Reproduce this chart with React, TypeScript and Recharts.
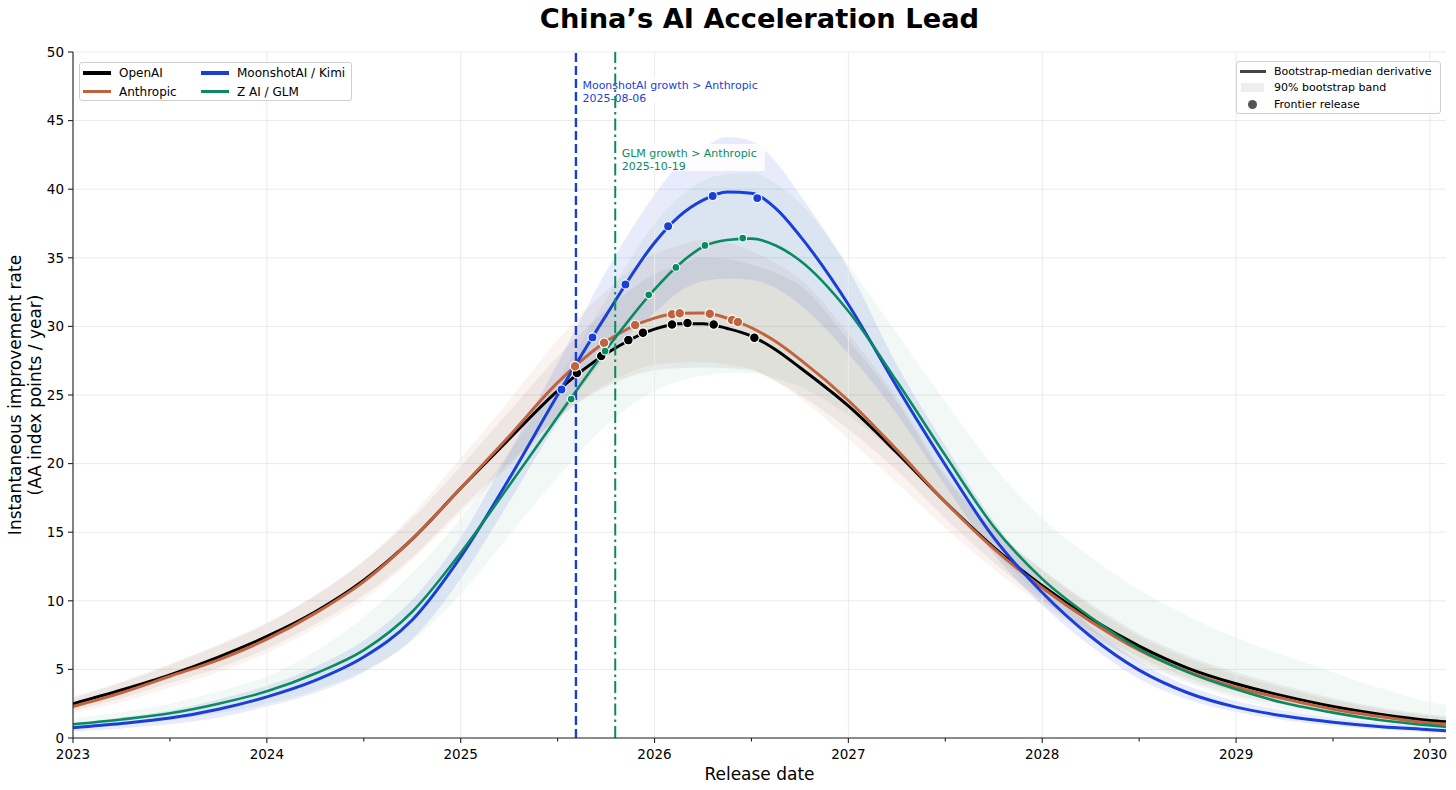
import React from 'react';
import {
  ComposedChart,
  Line,
  Area,
  Scatter,
  XAxis,
  YAxis,
  CartesianGrid,
  ReferenceLine,
} from 'recharts';

const FONT = '"DejaVu Sans", Verdana, sans-serif';

// ---------- data ----------
const T = [
  2023, 2023.25, 2023.5, 2023.75, 2024, 2024.25, 2024.5, 2024.75, 2025, 2025.25,
  2025.5, 2025.75, 2026, 2026.125, 2026.25, 2026.375, 2026.5, 2026.625, 2026.75, 2027,
  2027.25, 2027.5, 2027.75, 2028, 2028.25, 2028.5, 2028.75, 2029, 2029.25, 2029.5,
  2029.75, 2030, 2030.083,
];

const OPENAI = [2.5, 3.5, 4.6, 5.9, 7.4, 9.2, 11.5, 14.5, 18.2, 21.8, 25.3, 28.0, 29.8, 30.2, 30.2, 29.85, 29.3, 28.3, 27.0, 24.2, 20.8, 17.2, 13.9, 11.1, 8.7, 6.7, 5.1, 3.95, 3.05, 2.3, 1.72, 1.28, 1.18];
const OPENAI_LO = [2.0, 2.9, 4.0, 5.1, 6.5, 8.3, 10.4, 13.2, 16.7, 20.0, 23.3, 25.6, 26.8, 26.95, 27.0, 26.95, 26.8, 26.0, 25.0, 22.5, 19.5, 16.0, 12.8, 10.0, 7.8, 5.9, 4.4, 3.4, 2.6, 1.95, 1.45, 1.05, 0.95];
const OPENAI_HI = [3.0, 4.1, 5.4, 6.8, 8.4, 10.4, 12.9, 16.0, 19.8, 23.8, 27.8, 31.2, 33.8, 34.5, 35.0, 34.9, 34.5, 33.9, 33.0, 29.0, 24.5, 19.0, 15.2, 12.3, 9.8, 7.6, 6.0, 4.8, 3.8, 2.9, 2.2, 1.7, 1.58];

const ANTHROPIC = [2.3, 3.3, 4.5, 5.7, 7.2, 9.1, 11.4, 14.5, 18.2, 22.0, 25.9, 28.9, 30.6, 30.95, 30.97, 30.6, 29.9, 28.9, 27.6, 24.6, 21.0, 17.2, 13.8, 10.95, 8.5, 6.4, 4.85, 3.7, 2.85, 2.1, 1.55, 1.1, 1.02];
const ANTHROPIC_LO = [1.8, 2.6, 3.7, 4.8, 6.2, 8.0, 10.1, 13.0, 16.4, 19.8, 23.3, 25.8, 27.2, 27.35, 27.4, 27.2, 26.9, 26.0, 24.8, 21.8, 18.6, 15.3, 12.3, 9.7, 7.5, 5.6, 4.2, 3.1, 2.4, 1.75, 1.3, 0.9, 0.82];
const ANTHROPIC_HI = [2.9, 4.0, 5.3, 6.7, 8.3, 10.4, 12.9, 16.3, 20.4, 24.6, 29.0, 32.6, 35.3, 35.9, 36.3, 36.1, 35.5, 34.6, 33.5, 29.5, 24.8, 19.2, 15.3, 12.2, 9.6, 7.4, 5.8, 4.6, 3.6, 2.75, 2.1, 1.6, 1.5];

const MOONSHOT = [0.75, 1.05, 1.45, 2.1, 3.0, 4.2, 5.9, 8.6, 13.2, 18.9, 25.0, 30.8, 36.1, 38.0, 39.2, 39.8, 39.7, 38.6, 36.6, 31.6, 25.6, 19.9, 14.6, 10.6, 7.4, 4.95, 3.3, 2.25, 1.6, 1.15, 0.82, 0.6, 0.52];
const MOONSHOT_LO = [0.5, 0.7, 1.0, 1.5, 2.3, 3.3, 4.8, 7.2, 11.6, 17.2, 23.0, 27.8, 31.0, 32.5, 33.3, 33.5, 33.4, 32.8, 31.6, 28.0, 23.6, 18.4, 13.4, 9.7, 6.7, 4.3, 2.8, 1.9, 1.3, 0.9, 0.62, 0.42, 0.36];
const MOONSHOT_HI = [1.1, 1.5, 2.0, 2.8, 3.8, 5.2, 7.1, 10.1, 14.6, 20.8, 27.3, 34.0, 39.6, 41.8, 43.0, 43.8, 43.5, 42.0, 39.6, 34.2, 27.2, 21.3, 15.8, 11.6, 8.1, 5.6, 3.8, 2.7, 2.0, 1.45, 1.05, 0.8, 0.72];

const GLM = [1.0, 1.35, 1.8, 2.5, 3.4, 4.7, 6.4, 9.2, 13.5, 18.4, 23.4, 28.3, 32.7, 34.5, 35.8, 36.3, 36.4, 35.9, 34.8, 31.1, 26.0, 20.6, 15.4, 11.6, 8.8, 6.5, 4.8, 3.55, 2.55, 1.85, 1.3, 0.92, 0.82];
const GLM_LO = [0.7, 0.95, 1.3, 1.8, 2.5, 3.5, 4.9, 7.1, 10.5, 14.8, 19.0, 22.8, 25.3, 26.0, 26.4, 26.6, 26.6, 26.2, 25.6, 23.5, 20.6, 17.2, 13.6, 10.2, 7.5, 5.5, 4.0, 2.9, 2.05, 1.45, 1.0, 0.7, 0.62];
const GLM_HI = [1.4, 1.9, 2.5, 3.4, 4.5, 6.3, 8.8, 12.0, 16.0, 20.8, 26.0, 32.0, 37.5, 39.4, 40.6, 41.1, 41.2, 40.4, 39.0, 34.5, 29.5, 24.5, 19.8, 16.0, 13.2, 10.8, 8.9, 7.3, 6.0, 4.8, 3.6, 2.6, 2.4];

// frontier releases [year, rate]
const OPENAI_RELEASES = [[2025.6, 26.6], [2025.725, 27.84], [2025.865, 29.0], [2025.94, 29.54], [2026.09, 30.13], [2026.17, 30.25], [2026.305, 30.13], [2026.515, 29.18]];
const ANTHROPIC_RELEASES = [[2025.59, 27.1], [2025.74, 28.8], [2025.9, 30.1], [2026.09, 30.88], [2026.13, 30.95], [2026.285, 30.93], [2026.4, 30.47], [2026.43, 30.32]];
const MOONSHOT_RELEASES = [[2025.52, 25.4], [2025.68, 29.2], [2025.85, 33.05], [2026.07, 37.3], [2026.3, 39.5], [2026.53, 39.35]];
const GLM_RELEASES = [[2025.57, 24.7], [2025.745, 28.2], [2025.97, 32.3], [2026.11, 34.3], [2026.26, 35.9], [2026.455, 36.44]];

const SERIES_NAMES = ['OpenAI', 'Anthropic', 'MoonshotAI / Kimi', 'Z AI / GLM'];
const SERIES_COLORS = ['#000000', '#C2633F', '#1A3FD8', '#0A8A5F'];

const CROSS_DATES = ['2025-08-06', '2025-10-19'];
const CROSS_LABELS = ['MoonshotAI growth > Anthropic', 'GLM growth > Anthropic'];

const YEAR_TICKS = [2023, 2024, 2025, 2026, 2027, 2028, 2029, 2030];
const HALF_TICKS = [2023.5, 2024.5, 2025.5, 2026.5, 2027.5, 2028.5, 2029.5];
const Y_TICKS = [0, 5, 10, 15, 20, 25, 30, 35, 40, 45, 50];
const X_DOMAIN = [2023, 2030.083];

const TITLE = 'China\u2019s AI Acceleration Lead';
const Y_LABEL = ['Instantaneous improvement rate', '(AA index points / year)'];
const X_LABEL = 'Release date';
const STYLE_LEGEND = ['Bootstrap-median derivative', '90% bootstrap band', 'Frontier release'];

// ---------- build ----------
const dateToYear = (s: string) => {
  const d = new Date(s + 'T00:00:00Z');
  const y = d.getUTCFullYear();
  const a = Date.UTC(y, 0, 1);
  const b = Date.UTC(y + 1, 0, 1);
  return y + (d.getTime() - a) / (b - a);
};

const mkLine = (vals: number[]) => T.map((t, i) => ({ t, v: vals[i] }));
const mkBand = (lo: number[], hi: number[]) => T.map((t, i) => ({ t, range: [lo[i], hi[i]] }));
const mkDots = (pts: number[][]) => pts.map(([t, v]) => ({ t, v }));

const SERIES = [
  { line: mkLine(OPENAI), band: mkBand(OPENAI_LO, OPENAI_HI), dots: mkDots(OPENAI_RELEASES), width: 3, r: 4.8, bandOpacity: 0.055 },
  { line: mkLine(ANTHROPIC), band: mkBand(ANTHROPIC_LO, ANTHROPIC_HI), dots: mkDots(ANTHROPIC_RELEASES), width: 3, r: 4.8, bandOpacity: 0.08 },
  { line: mkLine(MOONSHOT), band: mkBand(MOONSHOT_LO, MOONSHOT_HI), dots: mkDots(MOONSHOT_RELEASES), width: 3, r: 4.5, bandOpacity: 0.1 },
  { line: mkLine(GLM), band: mkBand(GLM_LO, GLM_HI), dots: mkDots(GLM_RELEASES), width: 2.6, r: 3.9, bandOpacity: 0.06 },
].map((s, i) => ({ ...s, name: SERIES_NAMES[i], color: SERIES_COLORS[i] }));

const X_TICKS = [...YEAR_TICKS, ...HALF_TICKS].sort((a, b) => a - b);

const XTick = (props: any) => {
  const { x, y, payload } = props;
  const major = YEAR_TICKS.includes(payload.value);
  return (
    <g>
      <line x1={x} x2={x} y1={y} y2={y + (major ? 5 : 3.5)} stroke="#222" strokeWidth={1.1} />
      {major && (
        <text x={x} y={y + 21} textAnchor="middle" fontSize={13.5} fill="#000" fontFamily={FONT}>
          {payload.value}
        </text>
      )}
    </g>
  );
};

const CrossLabel = (props: any) => {
  const { viewBox, lines, color, top } = props;
  const x = viewBox.x;
  const y0 = viewBox.y;
  return (
    <g>
      <rect x={x + 2.5} y={y0 + top - 10} width={147} height={27} fill="#ffffff" fillOpacity={0.85} />
      <text fontSize={11} fill={color} fontFamily={FONT}>
        <tspan x={x + 6.5} y={y0 + top + 3}>{lines[0]}</tspan>
        <tspan x={x + 6.5} y={y0 + top + 15.5}>{lines[1]}</tspan>
      </text>
    </g>
  );
};

const DotShape = (color: string, r: number) => (props: any) => {
  const { cx, cy } = props;
  if (cx == null || cy == null) return null;
  return <circle cx={cx} cy={cy} r={r} fill={color} stroke="#ffffff" strokeWidth={1.1} />;
};

export default function App() {
  const crossX = CROSS_DATES.map(dateToYear);
  return (
    <div style={{ position: 'absolute', left: 0, top: 0, width: 1456, height: 790, background: '#fff', fontFamily: FONT }}>
      <ComposedChart width={1456} height={790} margin={{ top: 52, right: 10, bottom: 0, left: 0 }}>
        <CartesianGrid vertical={false} stroke="#ebebeb" strokeWidth={1} />
        {YEAR_TICKS.map((yr) => (
          <ReferenceLine key={'g' + yr} x={yr} stroke="#ebebeb" strokeWidth={1} />
        ))}
        <XAxis
          dataKey="t"
          type="number"
          domain={X_DOMAIN}
          allowDataOverflow
          ticks={X_TICKS}
          interval={0}
          height={52}
          tickSize={0}
          tickMargin={0}
          tickLine={false}
          tick={<XTick />}
          axisLine={{ stroke: '#222', strokeWidth: 1.1 }}
        />
        <XAxis
          xAxisId="top"
          orientation="top"
          dataKey="t"
          type="number"
          domain={X_DOMAIN}
          allowDataOverflow
          height={0}
          tick={false}
          tickLine={false}
          axisLine={{ stroke: '#222', strokeWidth: 1.1 }}
        />
        <YAxis
          dataKey="v"
          type="number"
          domain={[0, 50]}
          ticks={Y_TICKS}
          interval={0}
          width={73}
          tickSize={5}
          tickMargin={4}
          tick={{ fontSize: 13.5, fill: '#000', fontFamily: FONT }}
          tickLine={{ stroke: '#222', strokeWidth: 1.1 }}
          axisLine={{ stroke: '#222', strokeWidth: 1.1 }}
        />
        <YAxis
          yAxisId="right"
          orientation="right"
          type="number"
          domain={[0, 50]}
          width={0}
          tick={false}
          tickLine={false}
          axisLine={{ stroke: '#222', strokeWidth: 1.1 }}
        />
        {SERIES.map((s) => (
          <Area
            key={'band' + s.name}
            data={s.band}
            dataKey="range"
            type="monotone"
            stroke="none"
            fill={s.color}
            fillOpacity={s.bandOpacity}
            isAnimationActive={false}
            dot={false}
            activeDot={false}
          />
        ))}
        {SERIES.map((s) => (
          <Line
            key={'line' + s.name}
            data={s.line}
            dataKey="v"
            type="monotone"
            stroke={s.color}
            strokeWidth={s.width}
            dot={false}
            activeDot={false}
            isAnimationActive={false}
          />
        ))}
        <ReferenceLine
          x={crossX[0]}
          stroke={SERIES_COLORS[2]}
          strokeWidth={2.4}
          strokeDasharray="9 4"
          label={<CrossLabel lines={[CROSS_LABELS[0], CROSS_DATES[0]]} color={SERIES_COLORS[2]} top={34} />}
        />
        <ReferenceLine
          x={crossX[1]}
          stroke={SERIES_COLORS[3]}
          strokeWidth={2}
          strokeDasharray="12 4 2.5 4"
          label={<CrossLabel lines={[CROSS_LABELS[1], CROSS_DATES[1]]} color={SERIES_COLORS[3]} top={102} />}
        />
        {SERIES.map((s) => (
          <Scatter
            key={'dots' + s.name}
            data={s.dots}
            dataKey="v"
            isAnimationActive={false}
            shape={DotShape(s.color, s.r)}
          />
        ))}
      </ComposedChart>

      <svg width={1456} height={790} style={{ position: 'absolute', left: 0, top: 0, pointerEvents: 'none' }}>
        <text x={759.5} y={28} textAnchor="middle" fontSize={27.3} fontWeight="bold" fill="#000" fontFamily={FONT}>
          {TITLE}
        </text>
        <text transform="translate(21,395) rotate(-90)" textAnchor="middle" fontSize={17} fill="#000" fontFamily={FONT}>
          {Y_LABEL[0]}
        </text>
        <text transform="translate(41,395) rotate(-90)" textAnchor="middle" fontSize={17} fill="#000" fontFamily={FONT}>
          {Y_LABEL[1]}
        </text>
        <text x={759.5} y={780} textAnchor="middle" fontSize={17} fill="#000" fontFamily={FONT}>
          {X_LABEL}
        </text>
      </svg>

      {/* series legend */}
      <div
        style={{
          position: 'absolute', left: 79, top: 62, width: 273, height: 39,
          border: '1px solid #d0d0d0', borderRadius: 3, background: 'rgba(255,255,255,0.85)', boxSizing: 'border-box',
        }}
      >
        {SERIES.map((s, i) => (
          <div
            key={'lg' + s.name}
            style={{
              position: 'absolute', left: i < 2 ? 3 : 121, top: i % 2 === 0 ? 3 : 21.5, height: 14,
              display: 'flex', alignItems: 'center', fontSize: 12, color: '#000', whiteSpace: 'nowrap',
            }}
          >
            <span style={{ display: 'inline-block', width: 28, height: 3.5, background: s.color, marginRight: 8 }} />
            <span>{s.name}</span>
          </div>
        ))}
      </div>

      {/* style legend */}
      <div
        style={{
          position: 'absolute', left: 1236, top: 61, width: 205, height: 53,
          border: '1px solid #d0d0d0', borderRadius: 3, background: 'rgba(255,255,255,0.85)', boxSizing: 'border-box',
        }}
      >
        {STYLE_LEGEND.map((lab, i) => (
          <div
            key={'sl' + i}
            style={{
              position: 'absolute', left: 2, top: 2 + i * 16.5, height: 14,
              display: 'flex', alignItems: 'center', fontSize: 11, color: '#000', whiteSpace: 'nowrap',
            }}
          >
            <span style={{ display: 'inline-flex', width: 27, justifyContent: 'center', alignItems: 'center', marginRight: 8 }}>
              {i === 0 && <span style={{ display: 'inline-block', width: 26, height: 3, background: '#444' }} />}
              {i === 1 && <span style={{ display: 'inline-block', width: 23, height: 9, background: '#eeeeee' }} />}
              {i === 2 && <span style={{ display: 'inline-block', width: 9, height: 9, borderRadius: '50%', background: '#555' }} />}
            </span>
            <span>{lab}</span>
          </div>
        ))}
      </div>
    </div>
  );
}
